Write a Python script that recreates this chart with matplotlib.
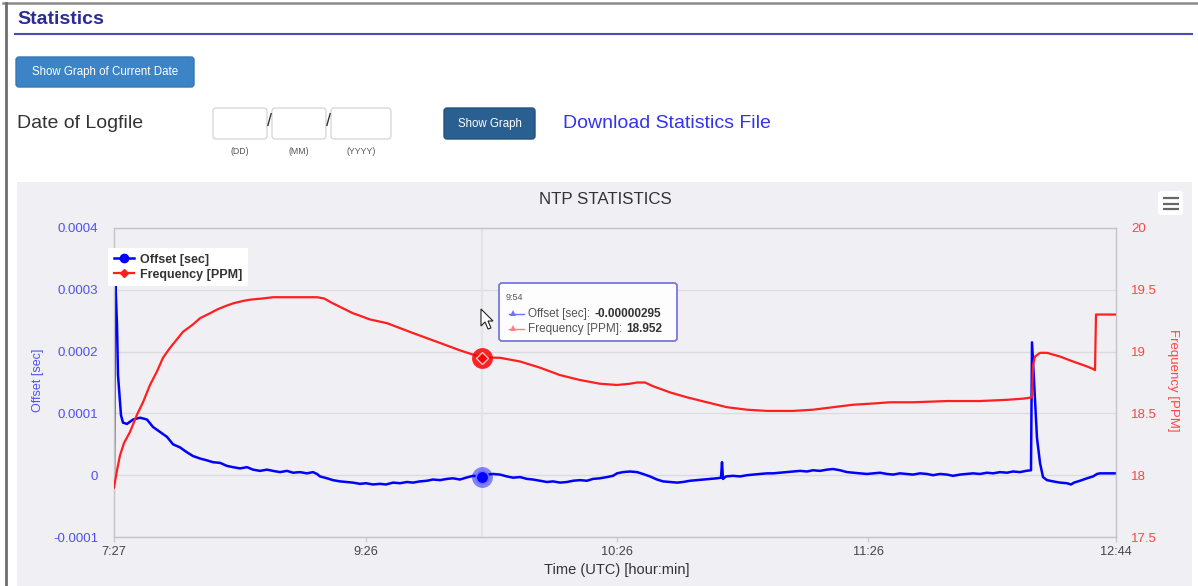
import matplotlib
matplotlib.use("Agg")
import matplotlib.pyplot as plt
from matplotlib.patches import FancyBboxPatch, Rectangle, Polygon
from matplotlib.lines import Line2D

plt.rcParams["font.family"] = ["Liberation Sans", "DejaVu Sans"]

W, H = 1198, 586

# x axis is the sample index in the ntp log (ticks are labelled with clock time)
tick_idx = [0, 252, 503, 754, 1002]
tick_labels = ["7:27", "9:26", "10:26", "11:26", "12:44"]

# offset [microseconds] per sample index
offset_idx = [0, 1, 3, 4, 7, 9, 13, 19, 26, 31, 33, 39, 46, 53, 59, 66, 73, 79, 86, 93,
              99, 106, 113, 119, 126, 133, 139, 146, 153, 159, 166, 173, 179, 186, 193, 199,
              203, 206, 213, 219, 226, 233, 239, 246, 252, 259, 266, 272, 279, 286, 293, 299,
              306, 313, 319, 326, 333, 339, 346, 352, 359, 368, 373, 379, 386, 393, 399, 406,
              413, 419, 426, 433, 439, 446, 453, 459, 466, 473, 479, 486, 493, 499, 503, 509,
              516, 523, 529, 536, 543, 549, 556, 563, 569, 576, 583, 589, 596, 603, 607, 608,
              609, 612, 619, 626, 633, 639, 646, 653, 659, 666, 673, 679, 686, 693, 699, 706,
              713, 719, 726, 733, 739, 746, 753, 759, 766, 773, 779, 786, 793, 799, 806, 813,
              819, 826, 833, 839, 846, 853, 859, 866, 873, 879, 886, 893, 899, 906, 912, 917,
              918, 921, 923, 926, 929, 933, 939, 946, 953, 957, 960, 966, 973, 979, 983, 986,
              1002]
offset_us = [2, 330, 243, 162, 97, 85, 83, 90, 93, 91, 90, 78, 70, 62, 50, 45, 37, 31, 27, 24,
             21, 20, 15, 13, 11, 13, 9, 7, 9, 7, 5, 7, 4, 5, 3, 5,
             2, -2, -5, -8, -10, -11, -12, -14, -13, -15, -14, -15, -12, -13, -11, -12,
             -10, -9, -7, -8, -6, -5, -7, -4, -1, -2.95, 1, 2, 1, -2, -4, -3,
             -6, -7, -9, -11, -10, -12, -11, -9, -8, -9, -6, -5, -3, -1, 3, 5,
             6, 5, 2, -2, -7, -10, -11, -12, -11, -9, -8, -7, -6, -5, -4, 21,
             -6, -2, -1, -2, 0, 1, 2, 3, 3, 4, 5, 6, 7, 6, 8, 7,
             9, 10, 8, 5, 4, 3, 2, 3, 4, 2, 1, 3, 2, 1, 3, 2,
             0, 2, 1, -1, 1, 2, 3, 2, 4, 3, 5, 4, 6, 5, 7, 8,
             215, 120, 60, 20, -3, -8, -10, -12, -13, -15, -12, -9, -5, -2, 2, 3,
             3]

# frequency [PPM] per sample index
freq_idx = [0, 3, 6, 10, 16, 23, 29, 36, 43, 49, 56, 62, 69, 79, 86, 96, 103, 112, 119, 129,
            136, 149, 159, 179, 196, 203, 210, 219, 229, 239, 246, 256, 273, 299, 326, 346,
            368, 386, 406, 426, 446, 466, 486, 503, 516, 523, 531, 539, 556, 573, 593, 613,
            633, 653, 679, 699, 719, 739, 759, 776, 799, 833, 866, 893, 910, 918, 919, 921,
            926, 933, 946, 959, 973, 979, 981, 982, 1002]
freq_ppm = [17.90, 18.04, 18.16, 18.26, 18.35, 18.49, 18.59, 18.73, 18.84, 18.95, 19.03, 19.09,
            19.16, 19.22, 19.27, 19.31, 19.34, 19.37, 19.39, 19.41, 19.42, 19.43, 19.44, 19.44,
            19.44, 19.44, 19.43, 19.39, 19.35, 19.31, 19.29, 19.26, 19.23, 19.15, 19.07, 19.01,
            18.952, 18.95, 18.92, 18.87, 18.81, 18.77, 18.74, 18.73, 18.74, 18.75, 18.75, 18.72,
            18.67, 18.63, 18.59, 18.55, 18.53, 18.52, 18.52, 18.53, 18.55, 18.57, 18.58, 18.59,
            18.59, 18.60, 18.60, 18.61, 18.62, 18.63, 18.89, 18.96, 18.99, 18.99, 18.96, 18.92,
            18.88, 18.86, 18.85, 19.30, 19.30]

# hovered point shown in the tooltip
hover_idx = 368
hover_time = "9:54"
hover_offset = -0.00000295
hover_freq = 18.952

BLUE = "#0000ff"
RED = "#ff1f1f"
PANEL = "#f0eff3"

fig = plt.figure(figsize=(W / 100, H / 100), dpi=100)
fig.patch.set_facecolor("white")

# page layer in pixel coordinates
page = fig.add_axes([0, 0, 1, 1], zorder=0)
page.set_xlim(0, W)
page.set_ylim(H, 0)
page.axis("off")


def box(axp, x0, y0, x1, y1, fc, ec="none", lw=1.0, r=3):
    p = FancyBboxPatch((x0, y0), x1 - x0, y1 - y0,
                       boxstyle=f"round,pad=0,rounding_size={r}",
                       fc=fc, ec=ec, lw=lw)
    axp.add_patch(p)
    return p


# window frame
page.plot([3, W], [3, 3], color="#8a8a8a", lw=1.8)
page.plot([5.5, 5.5], [3, H], color="#6e6e6e", lw=2.0)

page.text(17, 20, "Statistics", fontsize=14, weight="bold", color="#2b2b96", va="center")
page.plot([15, 1192], [34, 34], color="#4b4bb0", lw=1.5)

box(page, 16, 57, 194, 87, "#3d84c6", "#3477b5")
page.text(105, 72, "Show Graph of Current Date", fontsize=8.3, color="white",
          ha="center", va="center")

page.text(17, 124, "Date of Logfile", fontsize=14, color="#333333", va="center")
for x0, x1, lab in [(213, 267, "(DD)"), (272, 326, "(MM)"), (331, 391, "(YYYY)")]:
    box(page, x0, 108, x1, 139, "white", "#d0d0d0", lw=0.8)
    page.text((x0 + x1) / 2, 151, lab, fontsize=6.3, color="#555555", ha="center", va="center")
for xs in [269.5, 328.5]:
    page.text(xs, 122, "/", fontsize=13, color="#333333", ha="center", va="center")

box(page, 444, 108, 535, 139, "#2a5f91", "#24527e")
page.text(489.5, 124, "Show Graph", fontsize=8.3, color="white", ha="center", va="center")
page.text(563, 123, "Download Statistics File", fontsize=14, color="#3434ee", va="center")

# chart container
page.add_patch(Rectangle((17, 182), 1175, H - 182, fc=PANEL, ec="none"))
page.text(605, 199, "NTP STATISTICS", fontsize=12.2, color="#333333", ha="center", va="center")
box(page, 1158, 191, 1183, 215, "white")
for yy in [198, 203.5, 209]:
    page.plot([1163, 1178.5], [yy, yy], color="#666666", lw=1.6, solid_capstyle="butt")

# plot area
ax = fig.add_axes([114 / W, 1 - 537 / H, 1002 / W, 309 / H], zorder=1)
ax.set_facecolor("none")
ax.set_axisbelow(True)
ax.grid(axis="y", color="#dcdce0", lw=1)
ax.axvline(hover_idx, color="#e3e3ea", lw=1.6, zorder=0.8)
ax.plot(offset_idx, [v * 1e-6 for v in offset_us], color=BLUE, lw=1.8, zorder=2)
ax.set_xlim(0, 1002)
ax.set_ylim(-0.0001, 0.0004)
ax.set_yticks([-0.0001, 0, 0.0001, 0.0002, 0.0003, 0.0004],
              ["-0.0001", "0", "0.0001", "0.0002", "0.0003", "0.0004"])
ax.set_xticks(tick_idx, tick_labels)
ax.tick_params(axis="y", length=0, pad=11.5, labelsize=9.5, labelcolor="#5050f5")
ax.tick_params(axis="x", length=3.5, width=1, color="#cccccc", pad=3,
               labelsize=9.2, labelcolor="#444444")
for s in ax.spines.values():
    s.set_color("#c4c4c8")
    s.set_linewidth(1)

ax.set_xlabel("Time (UTC) [hour:min]", fontsize=10.5, color="#333333")
ax.xaxis.label.set_va("center")
ax.xaxis.set_label_coords((617 - 114) / 1002, -(570 - 537) / 309)
ax.set_ylabel("Offset [sec]", fontsize=9, color="#5050f5")
ax.yaxis.label.set_ha("center")
ax.yaxis.label.set_va("center")
ax.yaxis.set_label_coords((38 - 114) / 1002, (537 - 380) / 309)

ax.plot([hover_idx], [hover_offset], "o", ms=15, color=BLUE, alpha=0.45, mew=0, zorder=3)
ax.plot([hover_idx], [hover_offset], "o", ms=9, mfc=BLUE, mec="#6b6bff", mew=1.2, zorder=4)

ax2 = ax.twinx()
ax2.plot(freq_idx, freq_ppm, color=RED, lw=1.6, zorder=2)
ax2.set_ylim(17.5, 20)
ax2.set_yticks([17.5, 18, 18.5, 19, 19.5, 20], ["17.5", "18", "18.5", "19", "19.5", "20"])
ax2.tick_params(axis="y", length=0, pad=11, labelsize=9.5, labelcolor="#ff4545")
for s in ax2.spines.values():
    s.set_visible(False)
ax2.set_ylabel("Frequency [PPM]", fontsize=9.5, color="#ff4545", rotation=270)
ax2.yaxis.label.set_ha("center")
ax2.yaxis.label.set_va("center")
ax2.yaxis.set_label_coords((1173 - 114) / 1002, (537 - 380) / 309)

ax2.plot([hover_idx], [hover_freq], "o", ms=15, color="#ff0000", alpha=0.85, mew=0, zorder=3)
ax2.plot([hover_idx], [hover_freq], "D", ms=6, mfc="#ff0000", mec="#ffc0c0", mew=1, zorder=4)

handles = [Line2D([0], [0], color=BLUE, lw=1.8, marker="o", ms=6),
           Line2D([0], [0], color=RED, lw=1.6, marker="D", ms=4)]
leg = ax2.legend(handles, ["Offset [sec]", "Frequency [PPM]"], loc="upper left",
                 bbox_to_anchor=(108 / W, 1 - 248 / H), bbox_transform=fig.transFigure,
                 frameon=True, fancybox=False, facecolor="white", edgecolor="none",
                 framealpha=1, borderpad=0.45, handlelength=1.6, handletextpad=0.5,
                 labelspacing=0.25, borderaxespad=0, prop={"weight": "bold", "size": 9})
for t in leg.get_texts():
    t.set_color("#333333")

# tooltip and pointer on top
over = fig.add_axes([0, 0, 1, 1], zorder=3)
over.set_xlim(0, W)
over.set_ylim(H, 0)
over.axis("off")

tip = box(over, 499, 283, 677, 341, (1, 1, 1, 0.93), "#7777dd", lw=1.3)
over.text(506, 297, hover_time, fontsize=6.5, color="#555555", va="center")
rows = [(314, "#7070ff", "Offset [sec]:", f"{hover_offset:.8f}"),
        (329, "#ff8080", "Frequency [PPM]:", f"{hover_freq:.3f}")]
for yy, col, name, val in rows:
    over.plot([509, 524], [yy, yy], color=col, lw=1)
    over.plot([512.5], [yy - 1], marker="^", ms=4, color=col, mew=0)
    t = over.text(528, yy, name, fontsize=8.5, color="#555555", va="center")
    over.annotate(val, xy=(1, 0.5), xycoords=t, xytext=(3, 0), textcoords="offset points",
                  va="center", ha="left", fontsize=8.5, weight="bold", color="#333333")

tipx, tipy = 481, 309
arrow = [(0, 0), (0, 17), (4, 13), (7, 20), (10, 19), (7, 12), (12, 12)]
over.add_patch(Polygon([(tipx + dx, tipy + dy) for dx, dy in arrow], closed=True,
                       fc="white", ec="#222222", lw=0.8))

fig.savefig("out.png", dpi=100, facecolor="white")
